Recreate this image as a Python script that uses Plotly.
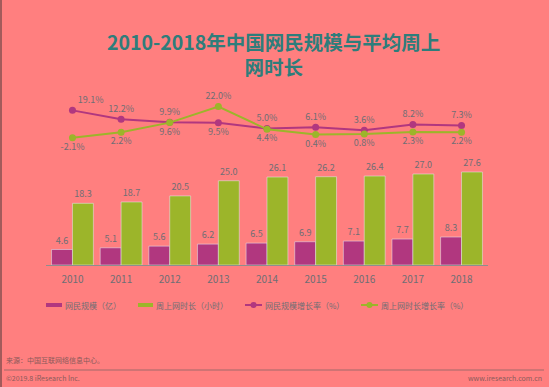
import plotly.graph_objects as go

years = ["2010", "2011", "2012", "2013", "2014", "2015", "2016", "2017", "2018"]
netizens = [4.6, 5.1, 5.6, 6.2, 6.5, 6.9, 7.1, 7.7, 8.3]
weekly_hours = [18.3, 18.7, 20.5, 25.0, 26.1, 26.2, 26.4, 27.0, 27.6]
netizen_growth = [19.1, 12.2, 9.9, 9.5, 5.0, 6.1, 3.6, 8.2, 7.3]
hours_growth = [-2.1, 2.2, 9.6, 22.0, 4.4, 0.4, 0.8, 2.3, 2.2]
series_names = ["网民规模（亿）", "周上网时长（小时）", "网民规模增长率（%）", "周上网时长增长率（%）"]
title_text = "2010-2018年中国网民规模与平均周上<br>网时长"

W, H = 549, 387
ML, MR, MT, MB = 46, 61, 90, 122
PW, PH = W - ML - MR, H - MT - MB

def px(x):
    return (x - ML) / PW

def py(y):
    return (H - MB - y) / PH

PURPLE = "#B1377F"
GREEN = "#9CB52A"
TXT = "#6E6E74"
FOOT = "#8A5A5A"
FONT = "Noto Sans CJK SC"

fig = go.Figure()
fig.add_trace(go.Bar(
    x=years, y=netizens, name=series_names[0], marker_color=PURPLE,
    text=[f"{v:.1f}" for v in netizens], textposition="outside",
    textfont=dict(size=9, color=TXT), cliponaxis=False))
fig.add_trace(go.Bar(
    x=years, y=weekly_hours, name=series_names[1], marker_color=GREEN,
    text=[f"{v:.1f}" for v in weekly_hours], textposition="outside",
    textfont=dict(size=9, color=TXT), cliponaxis=False))
ng_pos = ["top center"] * len(years)
ng_pos[0] = "top right"
ng_pos[3] = "bottom center"
fig.add_trace(go.Scatter(
    x=years, y=netizen_growth, name=series_names[2], yaxis="y2",
    mode="lines+markers+text", line=dict(color=PURPLE, width=2),
    marker=dict(size=7, color=PURPLE),
    text=[f"{v:.1f}%" for v in netizen_growth], textposition=ng_pos,
    textfont=dict(size=9, color=TXT), cliponaxis=False))
hg_pos = ["bottom center"] * len(years)
hg_pos[3] = "top center"
fig.add_trace(go.Scatter(
    x=years, y=hours_growth, name=series_names[3], yaxis="y2",
    mode="lines+markers+text", line=dict(color=GREEN, width=2),
    marker=dict(size=7, color=GREEN),
    text=[f"{v:.1f}%" for v in hours_growth], textposition=hg_pos,
    textfont=dict(size=9, color=TXT), cliponaxis=False))

fig.update_layout(
    width=W, height=H,
    margin=dict(l=ML, r=MR, t=MT, b=MB, autoexpand=False),
    paper_bgcolor="#FF7F7F", plot_bgcolor="#FF7F7F",
    font=dict(family=FONT, color=TXT),
    barmode="group", bargap=0.14, bargroupgap=0,
    showlegend=False,
    xaxis=dict(showgrid=False, showline=True, linecolor="#8E8E8E", linewidth=1,
               ticks="outside", ticklen=5, tickcolor="rgba(0,0,0,0)",
               tickfont=dict(size=10, color=TXT)),
    yaxis=dict(range=[0, PH / 3.37], visible=False, showgrid=False),
    yaxis2=dict(overlaying="y", range=[-(H - MB - 135) / 1.29, (135 - MT) / 1.29],
                visible=False, showgrid=False),
)

# title (two lines, one text block)
fig.add_annotation(text=f"<b>{title_text}</b>", xref="paper", yref="paper",
                   x=px(273), y=py(54), xanchor="center", yanchor="middle",
                   showarrow=False, font=dict(size=19.5, color="#2E7D7B", family=FONT))

# legend (drawn manually to match compact layout)
LY = 305
legend_items = [
    ("bar", PURPLE, 46, 62, series_names[0]),
    ("bar", GREEN, 138, 153, series_names[1]),
    ("line", PURPLE, 245, 262, series_names[2]),
    ("line", GREEN, 361, 378, series_names[3]),
]
for kind, col, x0, x1, name in legend_items:
    if kind == "bar":
        fig.add_shape(type="rect", xref="paper", yref="paper",
                      x0=px(x0), x1=px(x1), y0=py(LY + 2), y1=py(LY - 2),
                      fillcolor=col, line=dict(width=0))
    else:
        fig.add_shape(type="line", xref="paper", yref="paper",
                      x0=px(x0), x1=px(x1), y0=py(LY), y1=py(LY),
                      line=dict(color=col, width=2))
        xc = (x0 + x1) / 2
        fig.add_shape(type="circle", xref="paper", yref="paper",
                      x0=px(xc - 3), x1=px(xc + 3), y0=py(LY + 3), y1=py(LY - 3),
                      fillcolor=col, line=dict(width=0))
    fig.add_annotation(text=name, xref="paper", yref="paper",
                       x=px(x1 + 1), y=py(LY), xanchor="left", yanchor="middle",
                       showarrow=False, font=dict(size=8, color=TXT))

# frame and footer
fig.add_shape(type="rect", xref="paper", yref="paper",
              x0=px(0), x1=px(2), y0=py(H), y1=py(0),
              fillcolor="#A35B5B", line=dict(width=0), layer="above")
fig.add_shape(type="line", xref="paper", yref="paper",
              x0=px(4), x1=px(544), y0=py(370), y1=py(370),
              line=dict(color="#A06A6A", width=1))
fig.add_annotation(text="来源：中国互联网络信息中心。", xref="paper", yref="paper",
                   x=px(4), y=py(360), xanchor="left", yanchor="middle",
                   showarrow=False, font=dict(size=7, color=FOOT))
fig.add_annotation(text="©2019.8 iResearch Inc.", xref="paper", yref="paper",
                   x=px(4), y=py(378), xanchor="left", yanchor="middle",
                   showarrow=False, font=dict(size=7, color=FOOT))
fig.add_annotation(text="www.iresearch.com.cn", xref="paper", yref="paper",
                   x=px(544), y=py(378), xanchor="right", yanchor="middle",
                   showarrow=False, font=dict(size=7, color=FOOT))

fig.write_html("out.html", config={"displayModeBar": False},
               post_script="document.body.style.margin='0';document.body.style.overflow='hidden';")
